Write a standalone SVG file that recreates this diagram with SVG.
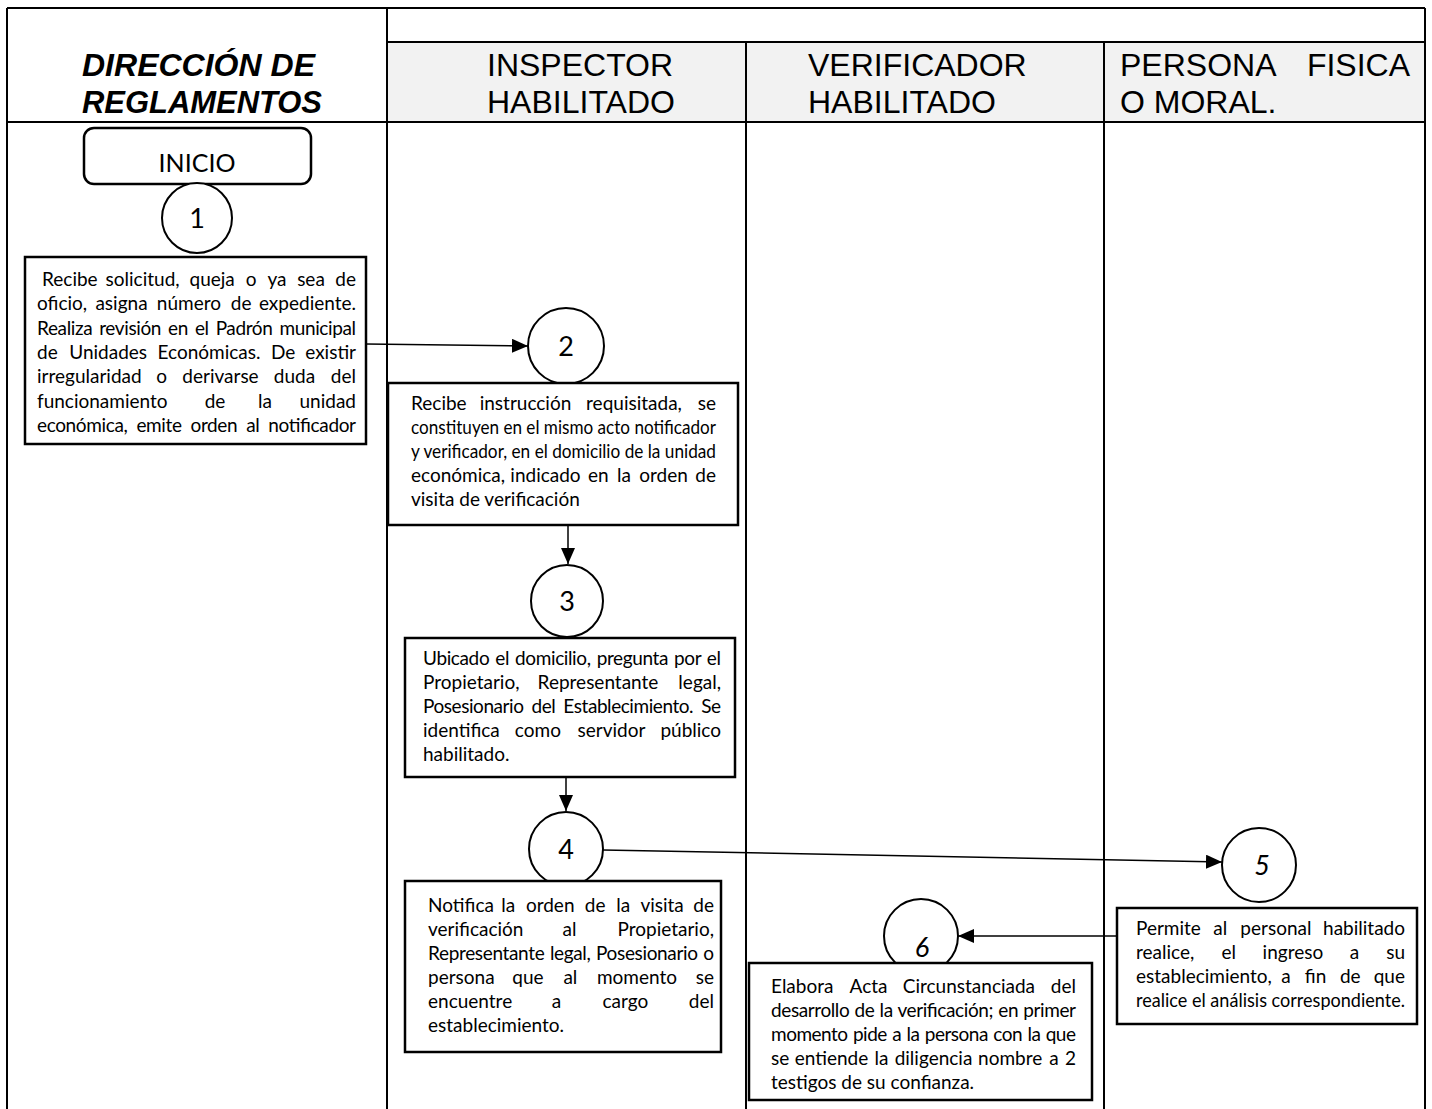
<svg xmlns="http://www.w3.org/2000/svg" width="1432" height="1109" viewBox="0 0 1432 1109">
<style>
.ln{stroke:#000;stroke-width:2;fill:none}
.hd{font-family:"Liberation Sans",Arial,sans-serif;font-size:32px;fill:#000}
.hb{font-family:"Liberation Sans",Arial,sans-serif;font-size:32px;font-weight:bold;font-style:italic;fill:#000}
.box{fill:#fff;stroke:#000;stroke-width:2.5}
.cir{fill:#fff;stroke:#000;stroke-width:2}
.t{font-family:Lato,"Open Sans",sans-serif;font-size:19px;fill:#000}
.n{font-family:Lato,"Open Sans",sans-serif;font-size:27px;fill:#000;text-anchor:middle}
.ni{font-style:italic}
.e{text-anchor:end}
.m{text-anchor:middle}
.con{stroke:#000;stroke-width:1.5;fill:none;marker-end:url(#ah)}
</style>
<defs>
<marker id="ah" markerWidth="16" markerHeight="14" refX="16" refY="7" orient="auto" markerUnits="userSpaceOnUse">
<path d="M0,0 L16,7 L0,14 Z" fill="#000"/>
</marker>
<clipPath id="c6"><rect x="749" y="963" width="343" height="130"/></clipPath>
</defs>
<g id="table">
<rect x="387" y="42" width="1038" height="80" fill="#f2f2f2"/>
<line class="ln" x1="7" y1="8" x2="1425" y2="8"/>
<line class="ln" x1="387" y1="42" x2="1425" y2="42"/>
<line class="ln" x1="7" y1="122" x2="1425" y2="122"/>
<line class="ln" x1="7" y1="8" x2="7" y2="1109"/>
<line class="ln" x1="1425" y1="8" x2="1425" y2="1109"/>
<line class="ln" x1="387" y1="8" x2="387" y2="1109"/>
<line class="ln" x1="746" y1="42" x2="746" y2="1109"/>
<line class="ln" x1="1104" y1="42" x2="1104" y2="1109"/>
<text class="hb" x="82" y="76" textLength="233" lengthAdjust="spacingAndGlyphs">DIRECCIÓN DE</text>
<text class="hb" x="82" y="113" textLength="240" lengthAdjust="spacingAndGlyphs">REGLAMENTOS</text>
<text class="hd" x="487" y="76">INSPECTOR</text>
<text class="hd" x="487" y="113">HABILITADO</text>
<text class="hd" x="808" y="76">VERIFICADOR</text>
<text class="hd" x="808" y="113">HABILITADO</text>
<text class="hd" x="1120" y="76">PERSONA</text>
<text class="hd e" x="1410" y="76">FISICA</text>
<text class="hd" x="1120" y="113">O MORAL.</text>
</g>
<g id="connectors">
<line class="con" x1="366" y1="344" x2="528" y2="346"/>
<line class="con" x1="568" y1="526" x2="568" y2="564"/>
<line class="con" x1="566" y1="778" x2="566" y2="811"/>
<line class="con" x1="603" y1="850" x2="1222" y2="862"/>
<line class="con" x1="1117" y1="936" x2="958" y2="936"/>
</g>
<g id="inicio">
<rect x="84" y="128" width="227" height="56" rx="10" fill="#fff" stroke="#000" stroke-width="2.5"/>
<text class="n" x="197" y="172" style="font-size:25px">INICIO</text>
</g>
<g id="c1"><circle class="cir" cx="197" cy="218" r="35"/><text class="n" x="197" y="228">1</text></g>
<g id="c2"><circle class="cir" cx="566" cy="346" r="38"/><text class="n" x="566" y="356">2</text></g>
<g id="c3"><circle class="cir" cx="567" cy="601" r="36"/><text class="n" x="567" y="611">3</text></g>
<g id="c4"><circle class="cir" cx="566" cy="849" r="37"/><text class="n" x="566" y="859">4</text></g>
<g id="c5"><circle class="cir" cx="1259" cy="865" r="37"/><text class="n ni" x="1262" y="875">5</text></g>
<g id="c6n"><circle class="cir" cx="921" cy="936" r="37"/><text class="n ni" x="922" y="957">6</text></g>
<g id="box1">
<rect class="box" x="25" y="257" width="341" height="187"/>
<text class="t" y="286"><tspan x="42">Recibe</tspan><tspan class="m" x="142.6">solicitud,</tspan><tspan class="m" x="212.2">queja</tspan><tspan class="m" x="251.1">o</tspan><tspan class="m" x="277">ya</tspan><tspan class="m" x="311">sea</tspan><tspan class="e" x="356">de</tspan></text>
<text class="t" y="310"><tspan x="37">oficio,</tspan><tspan class="m" x="121.5">asigna</tspan><tspan class="m" x="188.9">número</tspan><tspan class="m" x="241.1">de</tspan><tspan class="e" x="356">expediente.</tspan></text>
<text class="t" x="37" y="335" textLength="319" lengthAdjust="spacing" style="word-spacing:2.5px">Realiza revisión en el Padrón municipal</text>
<text class="t" y="359"><tspan x="37">de</tspan><tspan class="m" x="108.2">Unidades</tspan><tspan class="m" x="209">Económicas.</tspan><tspan class="m" x="283.2">De</tspan><tspan class="e" x="356">existir</tspan></text>
<text class="t" y="383"><tspan x="37">irregularidad</tspan><tspan class="m" x="161.6">o</tspan><tspan class="m" x="220.5">derivarse</tspan><tspan class="m" x="294.5">duda</tspan><tspan class="e" x="356">del</tspan></text>
<text class="t" y="408"><tspan x="37">funcionamiento</tspan><tspan class="m" x="215">de</tspan><tspan class="m" x="265">la</tspan><tspan class="e" x="356">unidad</tspan></text>
<text class="t" x="37" y="432" textLength="319" lengthAdjust="spacing" style="word-spacing:4.4px">económica, emite orden al notificador</text>
</g>
<g id="box2">
<rect class="box" x="388" y="383" width="350" height="142" stroke-width="3.5"/>
<text class="t" y="410"><tspan x="411">Recibe</tspan><tspan class="m" x="525.5">instrucción</tspan><tspan class="m" x="634">requisitada,</tspan><tspan class="e" x="716">se</tspan></text>
<text class="t" x="411" y="434" textLength="305" lengthAdjust="spacingAndGlyphs">constituyen en el mismo acto notificador</text>
<text class="t" x="411" y="458" textLength="305" lengthAdjust="spacingAndGlyphs">y verificador,  en el domicilio de la unidad</text>
<text class="t" y="482"><tspan x="411">económica,</tspan><tspan class="m" x="545.5">indicado</tspan><tspan class="m" x="598.2">en</tspan><tspan class="m" x="624">la</tspan><tspan class="m" x="663.5">orden</tspan><tspan class="e" x="716">de</tspan></text>
<text class="t" x="411" y="506">visita de verificación</text>
</g>
<g id="box3">
<rect class="box" x="405" y="638" width="330" height="139"/>
<text class="t" x="423" y="665" textLength="298" lengthAdjust="spacing" style="word-spacing:1.5px">Ubicado el domicilio, pregunta por el</text>
<text class="t" y="689"><tspan x="423">Propietario,</tspan><tspan class="m" x="598">Representante</tspan><tspan class="e" x="721">legal,</tspan></text>
<text class="t" x="423" y="713" textLength="298" lengthAdjust="spacing" style="word-spacing:3.6px">Posesionario del Establecimiento. Se</text>
<text class="t" y="737"><tspan x="423">identifica</tspan><tspan class="m" x="537.9">como</tspan><tspan class="m" x="611.4">servidor</tspan><tspan class="e" x="721">público</tspan></text>
<text class="t" x="423" y="761">habilitado.</text>
</g>
<g id="box4">
<rect class="box" x="405" y="881" width="316" height="171"/>
<text class="t" y="912"><tspan x="428">Notifica</tspan><tspan class="m" x="508.3">la</tspan><tspan class="m" x="550.2">orden</tspan><tspan class="m" x="595.1">de</tspan><tspan class="m" x="623.2">la</tspan><tspan class="m" x="662.1">visita</tspan><tspan class="e" x="714">de</tspan></text>
<text class="t" y="936"><tspan x="428">verificación</tspan><tspan class="m" x="569.5">al</tspan><tspan class="e" x="714">Propietario,</tspan></text>
<text class="t" x="428" y="960" textLength="286" lengthAdjust="spacing" style="word-spacing:1px">Representante legal, Posesionario o</text>
<text class="t" y="984"><tspan x="428">persona</tspan><tspan class="m" x="528">que</tspan><tspan class="m" x="570.4">al</tspan><tspan class="m" x="637">momento</tspan><tspan class="e" x="714">se</tspan></text>
<text class="t" y="1008"><tspan x="428">encuentre</tspan><tspan class="m" x="556.6">a</tspan><tspan class="m" x="625.4">cargo</tspan><tspan class="e" x="714">del</tspan></text>
<text class="t" x="428" y="1032">establecimiento.</text>
</g>
<g id="box5">
<rect class="box" x="1117" y="908" width="300" height="116"/>
<text class="t" y="935"><tspan x="1136">Permite</tspan><tspan class="m" x="1220.3">al</tspan><tspan class="m" x="1275.9">personal</tspan><tspan class="e" x="1405">habilitado</tspan></text>
<text class="t" y="959"><tspan x="1136">realice,</tspan><tspan class="m" x="1228.7">el</tspan><tspan class="m" x="1292.9">ingreso</tspan><tspan class="m" x="1354.5">a</tspan><tspan class="e" x="1405">su</tspan></text>
<text class="t" y="983"><tspan x="1136">establecimiento,</tspan><tspan class="m" x="1286">a</tspan><tspan class="m" x="1315.5">fin</tspan><tspan class="m" x="1350.3">de</tspan><tspan class="e" x="1405">que</tspan></text>
<text class="t" x="1136" y="1007" textLength="269" lengthAdjust="spacingAndGlyphs">realice el análisis correspondiente.</text>
</g>
<g id="box6">
<rect class="box" x="749" y="963" width="343" height="137"/>
<g clip-path="url(#c6)">
<text class="t" y="993"><tspan x="771">Elabora</tspan><tspan class="m" x="868.5">Acta</tspan><tspan class="m" x="968.9">Circunstanciada</tspan><tspan class="e" x="1076">del</tspan></text>
<text class="t" x="771" y="1017" textLength="305" lengthAdjust="spacing" style="word-spacing:0.7px">desarrollo de la verificación; en primer</text>
<text class="t" x="771" y="1041" textLength="305" lengthAdjust="spacing" style="word-spacing:1px">momento pide a la persona con la que</text>
<text class="t" y="1065"><tspan x="771">se</tspan><tspan class="m" x="831.5">entiende</tspan><tspan class="m" x="881.5">la</tspan><tspan class="m" x="933.5">diligencia</tspan><tspan class="m" x="1010.2">nombre</tspan><tspan class="m" x="1054">a</tspan><tspan class="e" x="1076">2</tspan></text>
<text class="t" x="771" y="1089">testigos de su confianza.</text>
</g>
</g>
</svg>
